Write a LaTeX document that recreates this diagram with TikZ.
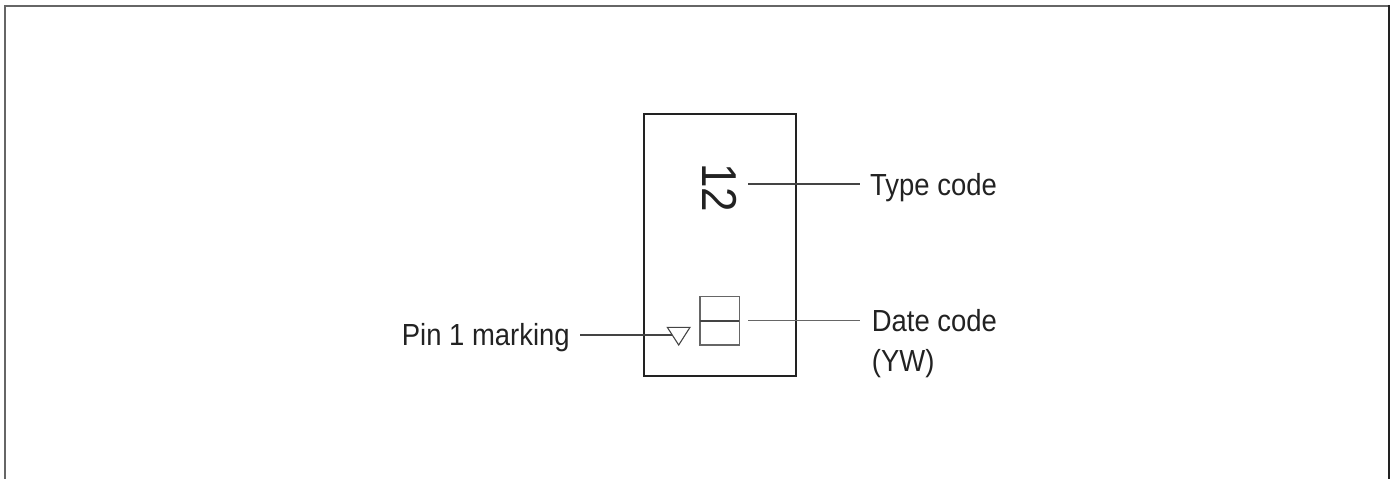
\documentclass[tikz,border=0pt]{standalone}
\usepackage{fontspec}
\newfontfamily\labfont[FakeStretch=0.9]{Liberation Sans}
\definecolor{inkc}{HTML}{222222}
\definecolor{linec}{HTML}{444444}
\definecolor{framec}{HTML}{666666}
\begin{document}
\begin{tikzpicture}[x=1pt,y=-1pt,
  lbl/.style={inner sep=0pt,anchor=base west,text=inkc,font=\labfont\fontsize{30.5}{36}\selectfont},
  thin/.style={draw=linec,line width=1.1pt},
  chip/.style={draw=inkc,line width=1.6pt}]
\useasboundingbox (0,0) rectangle (1395,479);
% frame
\draw[framec,line width=2pt] (5,479) -- (5,6) -- (1389,6);
\draw[inkc,line width=2pt] (1389,5) -- (1389,479);
% chip body
\draw[chip] (644,114) rectangle (795.7,375.7);
% type code digits
\node[inner sep=0pt,rotate=-90,text=inkc,font=\labfont\fontsize{49}{56}\selectfont] (twelve) at (720,188) {12};
% date code box
\draw[draw=framec,line width=1.2pt] (700,296.7) rectangle (739.3,345);
\draw[draw=linec,line width=1.6pt] (700,320.7) -- (739.3,320.7);
\coordinate (datebox) at (739.3,320.7);
% pin 1 triangle
\draw[draw=linec,line width=1.1pt] (667.3,327.3) -- (690,327.3) -- (678.7,345) -- cycle;
\coordinate (triedge) at (672.3,335);
% labels
\node[lbl] (typecode) at (870,195) {Type code};
\node[lbl] (datecode) at (871.7,331.7) {Date code};
\node[lbl] (yw) at (871.7,371.7) {(YW)};
\node[lbl] (pin) at (401.7,345.7) {Pin 1 marking};
% connectors
\coordinate (tcstart) at (748,184);
\coordinate (tcend) at (860,184);
\draw[thin] (tcstart) -- (tcend);
\coordinate (dcstart) at (748,320.7);
\coordinate (dcend) at (860,320.7);
\draw[thin,draw=framec] (dcstart) -- (dcend);
\coordinate (pinstart) at (580,335);
\draw[thin] (pinstart) -- (triedge);
\end{tikzpicture}
\end{document}
